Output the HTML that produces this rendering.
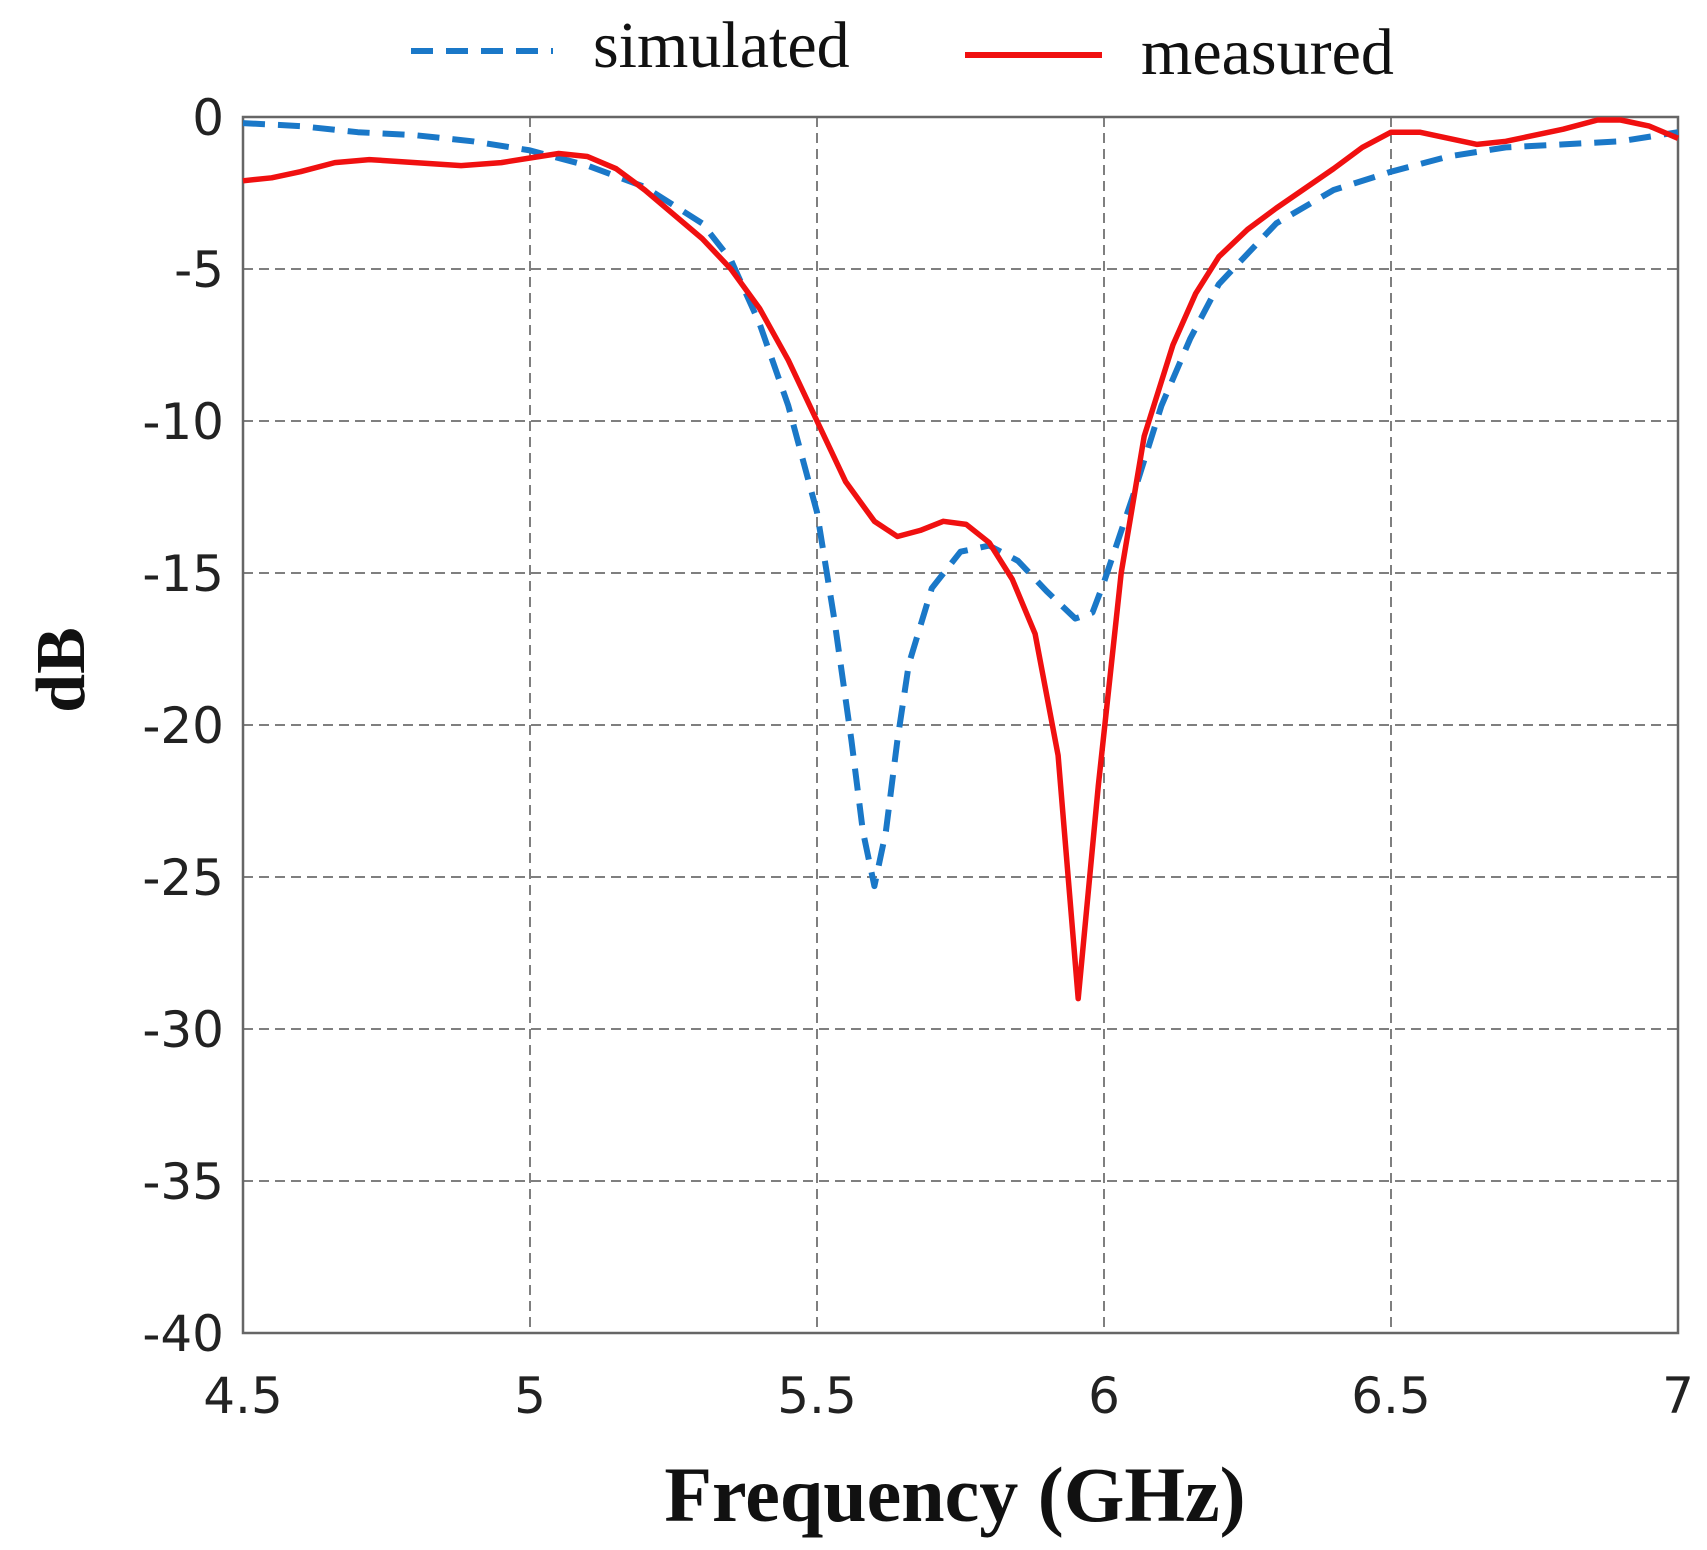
<!DOCTYPE html>
<html><head><style>body{margin:0;background:#fff}svg{display:block}</style></head>
<body>
<svg id="s" width="1707" height="1550" xmlns="http://www.w3.org/2000/svg">
<g id="grid" stroke="#555" stroke-width="1.5" stroke-dasharray="10,6"></g>
<rect x="243" y="117" width="1435" height="1216" fill="none" stroke="#666" stroke-width="2.5"/>
<g id="ticks" font-family="DejaVu Sans, sans-serif" font-size="50" fill="#222"></g>
<path id="sim" fill="none" stroke="#1a78c8" stroke-width="6" stroke-dasharray="22,13" stroke-linejoin="round"/>
<path id="mea" fill="none" stroke="#f01010" stroke-width="5.5" stroke-linejoin="round"/>
<line x1="411" y1="51" x2="553" y2="51" stroke="#1a78c8" stroke-width="6" stroke-dasharray="22,13"/>
<text x="593" y="67" font-family="Liberation Serif, serif" font-size="66" fill="#111">simulated</text>
<line x1="965" y1="55" x2="1102" y2="55" stroke="#f01010" stroke-width="6"/>
<text x="1141" y="74" font-family="Liberation Serif, serif" font-size="66" fill="#111">measured</text>
<text x="955" y="1521" text-anchor="middle" font-family="Liberation Serif, serif" font-weight="bold" font-size="78" fill="#111">Frequency (GHz)</text>
<text transform="translate(84,670) rotate(-90)" text-anchor="middle" font-family="Liberation Serif, serif" font-weight="bold" font-size="70" fill="#111">dB</text>
</svg>
<script>
var L=243,R=1678,T=117,B=1333;
function X(f){return L+(f-4.5)/2.5*(R-L);}
function Y(d){return T+(-d)/40*(B-T);}
var ns="http://www.w3.org/2000/svg",g=document.getElementById('grid'),tk=document.getElementById('ticks');
function el(p,t,a){var e=document.createElementNS(ns,t);for(var k in a)e.setAttribute(k,a[k]);p.appendChild(e);return e;}
[5,5.5,6,6.5].forEach(function(f){el(g,'line',{x1:X(f),x2:X(f),y1:T,y2:B});});
for(var d=-5;d>=-35;d-=5)el(g,'line',{x1:L,x2:R,y1:Y(d),y2:Y(d)});
for(var d=0;d>=-40;d-=5){var t=el(tk,'text',{x:224,y:Y(d)+18,'text-anchor':'end'});t.textContent=d;}
[4.5,5,5.5,6,6.5,7].forEach(function(f){var t=el(tk,'text',{x:X(f),y:1413,'text-anchor':'middle'});t.textContent=f;});
var sim=[[4.5,-0.2],[4.6,-0.3],[4.7,-0.5],[4.8,-0.6],[4.9,-0.8],[5.0,-1.1],[5.1,-1.6],[5.2,-2.3],[5.3,-3.5],[5.35,-4.7],[5.4,-6.8],[5.45,-9.5],[5.5,-13],[5.53,-16.5],[5.56,-20.5],[5.58,-23.5],[5.6,-25.3],[5.62,-23.5],[5.64,-20.5],[5.66,-18],[5.7,-15.5],[5.75,-14.3],[5.8,-14.1],[5.85,-14.6],[5.9,-15.6],[5.95,-16.5],[5.98,-16.3],[6.0,-15.3],[6.05,-12.5],[6.1,-9.5],[6.15,-7.3],[6.2,-5.5],[6.3,-3.5],[6.4,-2.4],[6.5,-1.8],[6.6,-1.3],[6.7,-1.0],[6.8,-0.9],[6.9,-0.8],[7.0,-0.5]];
var mea=[[4.5,-2.1],[4.55,-2.0],[4.6,-1.8],[4.66,-1.5],[4.72,-1.4],[4.8,-1.5],[4.88,-1.6],[4.95,-1.5],[5.0,-1.35],[5.05,-1.2],[5.1,-1.3],[5.15,-1.7],[5.2,-2.4],[5.3,-4.0],[5.35,-5.0],[5.4,-6.3],[5.45,-8.0],[5.5,-10],[5.55,-12.0],[5.6,-13.3],[5.64,-13.8],[5.68,-13.6],[5.72,-13.3],[5.76,-13.4],[5.8,-14.0],[5.84,-15.2],[5.88,-17.0],[5.92,-21],[5.955,-29],[5.99,-22],[6.03,-15],[6.07,-10.5],[6.12,-7.5],[6.16,-5.8],[6.2,-4.6],[6.25,-3.7],[6.3,-3.0],[6.4,-1.7],[6.45,-1.0],[6.5,-0.5],[6.55,-0.5],[6.6,-0.7],[6.65,-0.9],[6.7,-0.8],[6.8,-0.4],[6.86,-0.1],[6.9,-0.1],[6.95,-0.3],[7.0,-0.7]];
function p(a){return a.map(function(q,i){return (i?'L':'M')+X(q[0]).toFixed(1)+','+Y(q[1]).toFixed(1);}).join('');}
document.getElementById('sim').setAttribute('d',p(sim));
document.getElementById('mea').setAttribute('d',p(mea));
</script>
</body></html>
